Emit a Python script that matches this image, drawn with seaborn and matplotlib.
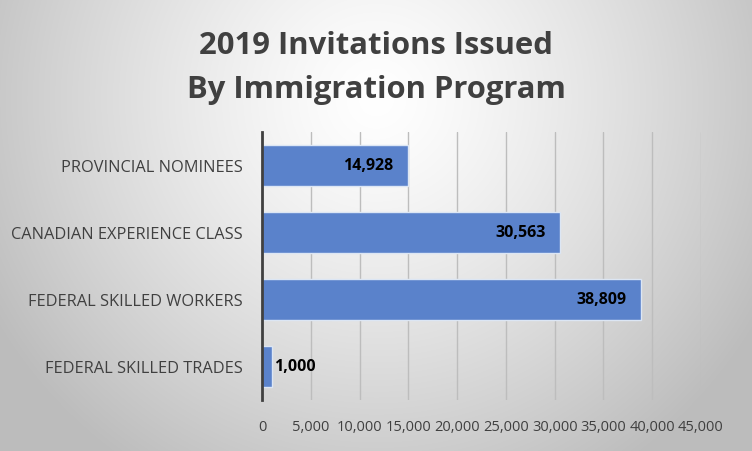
import numpy as np
import matplotlib
matplotlib.use("Agg")
import matplotlib.pyplot as plt
import seaborn as sns
import pandas as pd

categories = ["PROVINCIAL NOMINEES", "CANADIAN EXPERIENCE CLASS",
              "FEDERAL SKILLED WORKERS", "FEDERAL SKILLED TRADES"]
values = [14928, 30563, 38809, 1000]
tick_values = [0, 5000, 10000, 15000, 20000, 25000, 30000, 35000, 40000, 45000]
tick_labels = ["0", "5,000", "10,000", "15,000", "20,000", "25,000",
               "30,000", "35,000", "40,000", "45,000"]
title = "2019 Invitations Issued\nBy Immigration Program"

sns.set_theme(style="white")
plt.rcParams['font.family'] = ['Open Sans', 'DejaVu Sans']

W, H = 752, 452
fig = plt.figure(figsize=(W / 100, H / 100), dpi=100)

# radial gradient background
bg = fig.add_axes([0, 0, 1, 1], zorder=-10)
yy, xx = np.mgrid[0:H, 0:W]
cx, cy = 0.5 * W, 0.22 * H
r = np.sqrt(((xx - cx) / (0.62 * W)) ** 2 + ((yy - cy) / (0.62 * W)) ** 2)
g = np.clip(1.0 - 0.28 * r ** 1.3, 0.74, 1.0)
bg.imshow(np.dstack([g, g, g]), aspect='auto', extent=[0, 1, 0, 1], origin='upper')
bg.set_axis_off()

ax = fig.add_axes([262 / W, 1 - 401 / H, (701 - 262) / W, (401 - 133) / H])
ax.patch.set_alpha(0)

df = pd.DataFrame({"category": categories, "value": values})
sns.barplot(data=df, x="value", y="category", orient="h", ax=ax,
            color="#5a82cb", width=0.6, edgecolor="#dce6f4", linewidth=1.0,
            saturation=1, zorder=3)

ax.set_xlim(0, 45000)
ax.set_xticks(tick_values)
ax.set_xticklabels(tick_labels, fontsize=10.5, color="#404040")
ax.tick_params(axis='x', length=0, pad=14)
ax.tick_params(axis='y', length=0, pad=14, labelsize=11.8, labelcolor="#404040")
ax.set_xlabel("")
ax.set_ylabel("")
ax.xaxis.grid(True, color="#bdbdbd", linewidth=1.0, zorder=0)
ax.set_axisbelow(True)
for s in ["top", "right", "bottom"]:
    ax.spines[s].set_visible(False)
ax.spines["left"].set_color("#404040")
ax.spines["left"].set_linewidth(2.0)
ax.spines["left"].set_zorder(5)

for i, v in enumerate(values):
    lab = f"{v:,}"
    if v > 5000:
        ax.text(v - 1500, i, lab, ha="right", va="center", fontsize=11.5,
                fontweight="bold", color="black", zorder=6)
    else:
        ax.text(v + 250, i, lab, ha="left", va="center", fontsize=11.5,
                fontweight="bold", color="black", zorder=6)

fig.text(0.5, 1 - 68 / H, title, ha="center", va="center", fontsize=22.3,
         fontweight="bold", color="#404040", linespacing=1.6)

fig.savefig("out.png", dpi=100)
